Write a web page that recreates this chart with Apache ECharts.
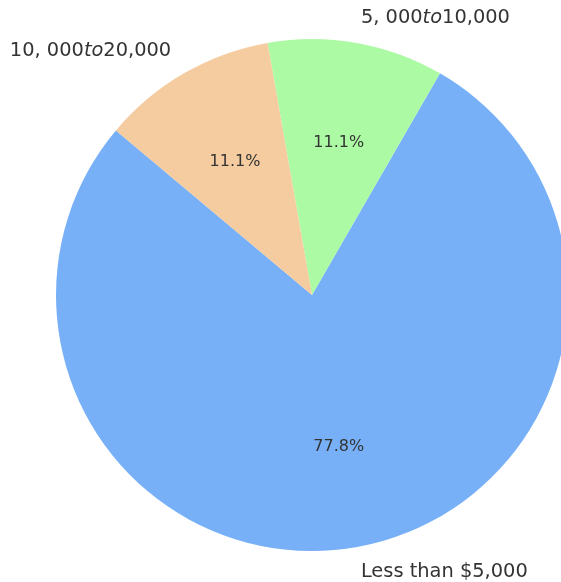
<!DOCTYPE html>
<html>
<head>
<meta charset="utf-8">
<script src="https://cdn.jsdelivr.net/npm/echarts@6/dist/echarts.min.js"></script>
<style>html,body{margin:0;padding:0;background:#fff;}#c{width:561px;height:582px;}</style>
</head>
<body>
<div id="c"></div>
<script>
const categories = ['Less than $5,000', '$5,000 to $10,000', '$10,000 to $20,000'];
const labelText = ['Less than $5,000', '{n|5, 000}{i|to}{n|10,000}', '{n|10, 000}{i|to}{n|20,000}'];
const counts = [7, 1, 1];
const colors = ['#78b0f8', '#adfaa4', '#f5cca0'];

const FONT = '"DejaVu Sans", sans-serif';
const R = 256;
const chart = echarts.init(document.getElementById('c'));
const total = counts.reduce((a, b) => a + b, 0);

chart.setOption({
  backgroundColor: '#ffffff',
  animation: false,
  series: [
    {
      type: 'pie',
      center: [312, 295],
      radius: [0, R],
      startAngle: 140,
      clockwise: false,
      avoidLabelOverlap: false,
      silent: true,
      data: categories.map((c, i) => ({ name: c, value: counts[i], itemStyle: { color: colors[i] } })),
      label: {
        show: true,
        position: 'outside',
        alignTo: 'none',
        distanceToLabelLine: 0,
        color: '#333',
        fontFamily: FONT,
        fontSize: 19.4,
        formatter: p => labelText[p.dataIndex],
        rich: {
          n: { fontFamily: FONT, fontSize: 19.4, color: '#333' },
          i: { fontFamily: FONT, fontSize: 19.4, color: '#333', fontStyle: 'italic' }
        }
      },
      labelLine: { show: false, length: R * 0.1, length2: 0 }
    },
    {
      type: 'pie',
      center: [312, 295],
      radius: [0, R * 1.18],
      startAngle: 140,
      clockwise: false,
      avoidLabelOverlap: false,
      silent: true,
      z: 5,
      data: categories.map((c, i) => ({ name: c, value: counts[i], itemStyle: { color: 'rgba(0,0,0,0)' } })),
      label: {
        show: true,
        position: 'inside',
        color: '#333',
        fontFamily: FONT,
        fontSize: 16,
        formatter: p => (p.value / total * 100).toFixed(1) + '%'
      },
      labelLine: { show: false }
    }
  ]
});
</script>
</body>
</html>
